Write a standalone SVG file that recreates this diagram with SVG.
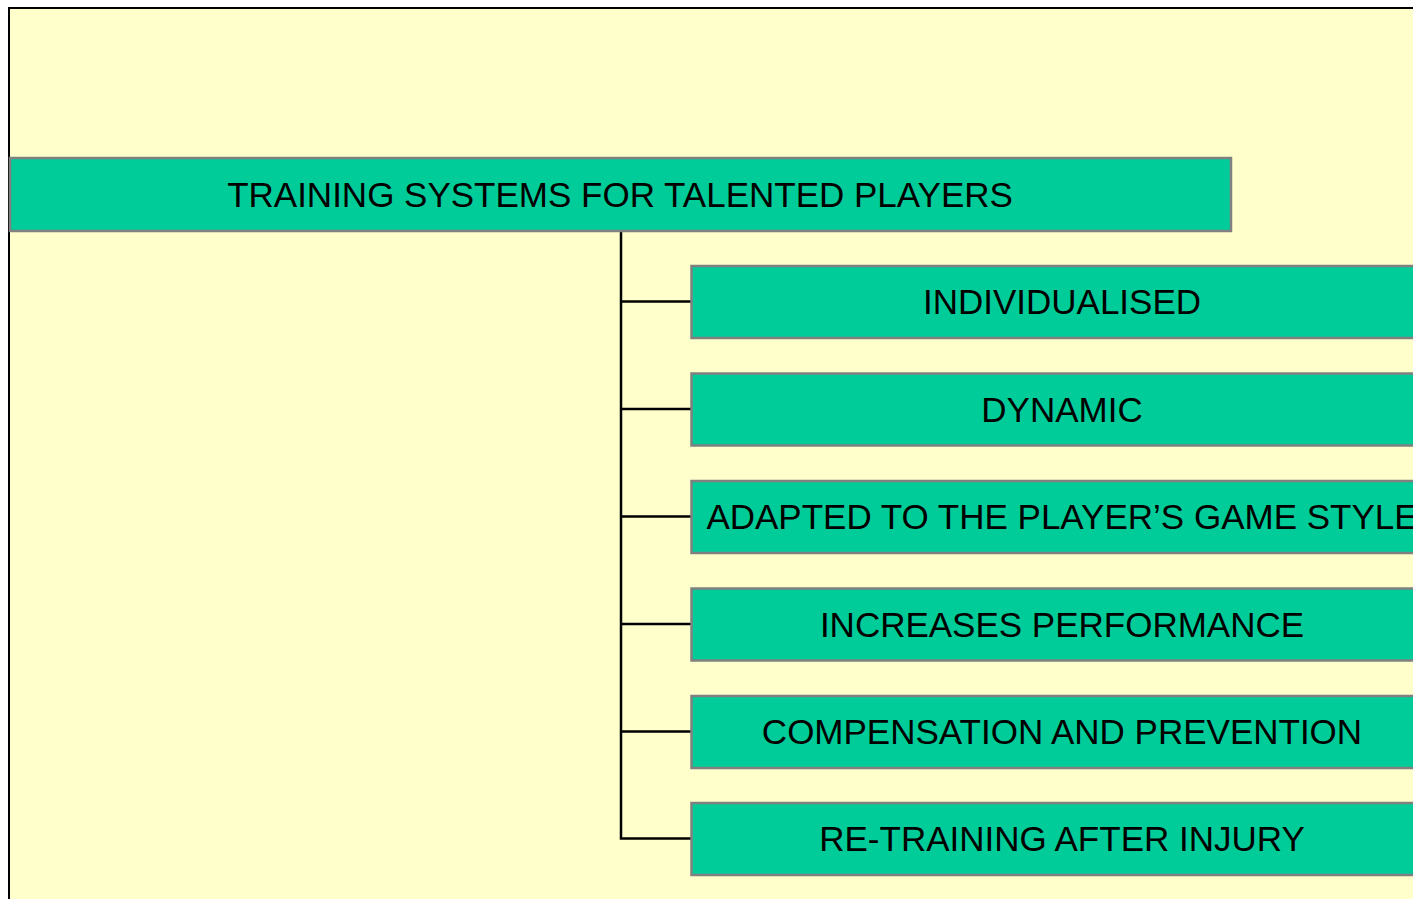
<svg xmlns="http://www.w3.org/2000/svg" width="1413" height="899" viewBox="0 0 1413 899">
<style>
.bg{fill:#FFFFCC;stroke:#000;stroke-width:2}
.box{fill:#00CC99;stroke:#808080;stroke-width:2.5}
.lbl{font-family:"Liberation Sans",Arial,sans-serif;font-size:35px;fill:#000;text-anchor:middle}
.conn{stroke:#000;stroke-width:2.5;fill:none}
</style>
<rect x="0" y="0" width="1413" height="899" fill="#FFFFFF"/>
<rect class="bg" x="9" y="8" width="1500" height="1000"/>
<g id="connectors">
<path class="conn" d="M621 231 V838.5 H691"/>
<path class="conn" d="M621 301.5 H691"/>
<path class="conn" d="M621 409 H691"/>
<path class="conn" d="M621 516.5 H691"/>
<path class="conn" d="M621 624 H691"/>
<path class="conn" d="M621 731.5 H691"/>
</g>
<g id="root">
<rect class="box" x="10" y="158" width="1221" height="73"/>
<text class="lbl" x="620" y="206.5">TRAINING SYSTEMS FOR TALENTED PLAYERS</text>
</g>
<g id="n1">
<rect class="box" x="691.5" y="266" width="742" height="72"/>
<text class="lbl" x="1062" y="314">INDIVIDUALISED</text>
</g>
<g id="n2">
<rect class="box" x="691.5" y="373.5" width="742" height="72"/>
<text class="lbl" x="1062" y="421.5">DYNAMIC</text>
</g>
<g id="n3">
<rect class="box" x="691.5" y="481" width="742" height="72"/>
<text class="lbl" x="1062" y="529">ADAPTED TO THE PLAYER’S GAME STYLE</text>
</g>
<g id="n4">
<rect class="box" x="691.5" y="588.5" width="742" height="72"/>
<text class="lbl" x="1062" y="636.5">INCREASES PERFORMANCE</text>
</g>
<g id="n5">
<rect class="box" x="691.5" y="696" width="742" height="72"/>
<text class="lbl" x="1062" y="744">COMPENSATION AND PREVENTION</text>
</g>
<g id="n6">
<rect class="box" x="691.5" y="803" width="742" height="72"/>
<text class="lbl" x="1062" y="851">RE-TRAINING AFTER INJURY</text>
</g>
</svg>
